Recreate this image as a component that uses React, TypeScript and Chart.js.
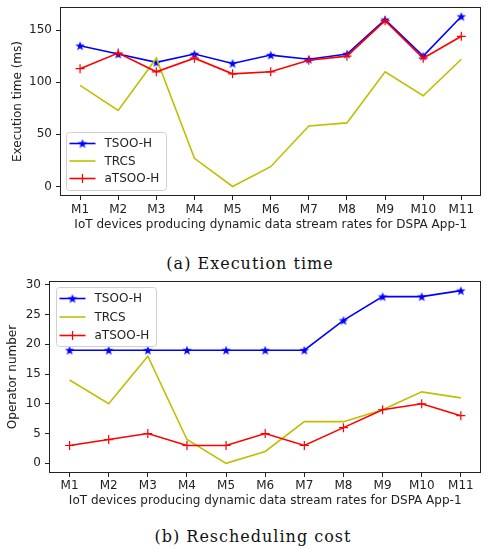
import React, { useEffect, useRef } from "react";
import { Chart, registerables } from "chart.js";

Chart.register(...registerables);

// ---------- data ----------
const categories = ["M1", "M2", "M3", "M4", "M5", "M6", "M7", "M8", "M9", "M10", "M11"];
const seriesNames = ["TSOO-H", "TRCS", "aTSOO-H"];

const execTSOOH = [135, 127, 119, 127, 118, 126, 122, 127, 160, 125, 163];
const execTRCS = [97, 73, 123, 27, 0, 19, 58, 61, 110, 87, 122];
const execATSOOH = [113, 128, 110, 123, 108, 110, 121, 125, 159, 123, 144];

const costTSOOH = [19, 19, 19, 19, 19, 19, 19, 24, 28, 28, 29];
const costTRCS = [14, 10, 18, 4, 0, 2, 7, 7, 9, 12, 11];
const costATSOOH = [3, 4, 5, 3, 3, 5, 3, 6, 9, 10, 8];

const execTicks = [0, 50, 100, 150];
const costTicks = [0, 5, 10, 15, 20, 25, 30];

const xTitle = "IoT devices producing dynamic data stream rates for DSPA App-1";
const execYTitle = "Execution time (ms)";
const costYTitle = "Operator number";
const captionA = "(a) Execution time";
const captionB = "(b) Rescheduling cost";

// ---------- styles ----------
const BLUE = "#0000ff";
const OLIVE = "#bfbf00";
const RED = "#ff0000";
const FONT = "'DejaVu Sans', sans-serif";
const FS = 12;
const TEXT = "#222222";

function makeStar(color: string, r: number): HTMLCanvasElement {
  const size = Math.ceil(r * 2 + 2);
  const c = document.createElement("canvas");
  c.width = size;
  c.height = size;
  const ctx = c.getContext("2d")!;
  const cx = size / 2;
  const cy = size / 2 + 0.4;
  ctx.beginPath();
  for (let i = 0; i < 10; i++) {
    const rad = i % 2 === 0 ? r : r * 0.4;
    const a = -Math.PI / 2 + (i * Math.PI) / 5;
    const px = cx + rad * Math.cos(a);
    const py = cy + rad * Math.sin(a);
    if (i === 0) ctx.moveTo(px, py);
    else ctx.lineTo(px, py);
  }
  ctx.closePath();
  ctx.fillStyle = color;
  ctx.fill();
  return c;
}

function extent(arrs: number[][]) {
  const all = arrs.flat();
  const mn = Math.min(...all);
  const mx = Math.max(...all);
  const m = (mx - mn) * 0.05;
  return { min: mn - m, max: mx + m };
}

const framePlugin = {
  id: "frameAndLegend",
  afterDatasetsDraw(chart: any, _args: any, opts: any) {
    const { ctx, chartArea } = chart;
    ctx.save();
    // axes frame
    ctx.strokeStyle = "#222";
    ctx.lineWidth = 1;
    ctx.strokeRect(
      Math.round(chartArea.left) - 0.5,
      Math.round(chartArea.top) - 0.5,
      Math.round(chartArea.right - chartArea.left) + 1,
      Math.round(chartArea.bottom - chartArea.top) + 1
    );
    // legend
    const { x, y, w, h, rowH, first } = opts;
    const r = 3;
    ctx.beginPath();
    ctx.moveTo(x + r, y);
    ctx.lineTo(x + w - r, y);
    ctx.arcTo(x + w, y, x + w, y + r, r);
    ctx.lineTo(x + w, y + h - r);
    ctx.arcTo(x + w, y + h, x + w - r, y + h, r);
    ctx.lineTo(x + r, y + h);
    ctx.arcTo(x, y + h, x, y + h - r, r);
    ctx.lineTo(x, y + r);
    ctx.arcTo(x, y, x + r, y, r);
    ctx.closePath();
    ctx.fillStyle = "rgba(255,255,255,0.8)";
    ctx.fill();
    ctx.strokeStyle = "#d0d0d0";
    ctx.stroke();

    chart.data.datasets.forEach((ds: any, i: number) => {
      const cy = y + first + i * rowH;
      const x0 = x + 3;
      const x1 = x + 29;
      ctx.strokeStyle = ds.borderColor;
      ctx.lineWidth = ds.borderWidth;
      ctx.beginPath();
      ctx.moveTo(x0, cy);
      ctx.lineTo(x1, cy);
      ctx.stroke();
      const mx = (x0 + x1) / 2;
      if (ds.pointStyle instanceof HTMLCanvasElement) {
        const img = ds.pointStyle;
        ctx.drawImage(img, mx - img.width / 2, cy - img.height / 2);
      } else if (ds.pointStyle === "cross" && ds.pointRadius > 0) {
        ctx.strokeStyle = ds.pointBorderColor;
        ctx.lineWidth = ds.pointBorderWidth;
        const pr = ds.pointRadius;
        ctx.beginPath();
        ctx.moveTo(mx - pr, cy);
        ctx.lineTo(mx + pr, cy);
        ctx.moveTo(mx, cy - pr);
        ctx.lineTo(mx, cy + pr);
        ctx.stroke();
      }
      ctx.fillStyle = TEXT;
      ctx.font = `${FS}px ${FONT}`;
      ctx.textBaseline = "middle";
      ctx.textAlign = "left";
      ctx.fillText(ds.label, x + 38, cy + 0.5);
    });
    ctx.restore();
  },
};

function buildConfig(p: {
  series: number[][];
  ticks: number[];
  yTitle: string;
  yWidth: number;
  yTitlePad: number;
  xHeight: number;
  xTickPad: number;
  xTitlePad: number;
  padTop: number;
  legend: any;
}) {
  const star = makeStar(BLUE, 5);
  const { min, max } = extent(p.series);
  return {
    type: "line",
    data: {
      labels: categories,
      datasets: [
        {
          label: seriesNames[0],
          data: p.series[0],
          borderColor: BLUE,
          backgroundColor: BLUE,
          borderWidth: 1.6,
          pointStyle: star,
          pointRadius: 5,
          pointHoverRadius: 5,
          tension: 0,
          order: 3,
        },
        {
          label: seriesNames[1],
          data: p.series[1],
          borderColor: OLIVE,
          backgroundColor: OLIVE,
          borderWidth: 1.6,
          pointRadius: 0,
          pointHoverRadius: 0,
          tension: 0,
          order: 2,
        },
        {
          label: seriesNames[2],
          data: p.series[2],
          borderColor: RED,
          backgroundColor: RED,
          borderWidth: 1.6,
          pointStyle: "cross",
          pointRadius: 4.5,
          pointHoverRadius: 4.5,
          pointBorderColor: RED,
          pointBorderWidth: 1.2,
          tension: 0,
          order: 1,
        },
      ],
    },
    options: {
      animation: false,
      responsive: false,
      events: [],
      layout: { padding: { left: 0, right: 2, top: p.padTop, bottom: 0 } },
      plugins: {
        legend: { display: false },
        tooltip: { enabled: false },
        frameAndLegend: p.legend,
      },
      scales: {
        x: {
          type: "category",
          offset: true,
          border: { display: false },
          grid: {
            display: true,
            drawOnChartArea: false,
            drawTicks: true,
            tickLength: 5,
            color: "#222",
            offset: false,
          },
          ticks: {
            color: TEXT,
            font: { family: FONT, size: FS },
            padding: p.xTickPad,
            maxRotation: 0,
            autoSkip: false,
          },
          title: {
            display: true,
            text: xTitle,
            color: TEXT,
            font: { family: FONT, size: FS },
            padding: { top: 0, bottom: p.xTitlePad },
          },
          afterFit: (s: any) => {
            s.height = p.xHeight;
            s.paddingLeft = 0;
            s.paddingRight = 0;
          },
        },
        y: {
          type: "linear",
          min,
          max,
          border: { display: false },
          grid: {
            display: true,
            drawOnChartArea: false,
            drawTicks: true,
            tickLength: 5,
            color: "#222",
          },
          ticks: {
            color: TEXT,
            font: { family: FONT, size: FS },
            padding: 4,
          },
          afterBuildTicks: (s: any) => {
            s.ticks = p.ticks.map((v) => ({ value: v }));
          },
          title: {
            display: true,
            text: p.yTitle,
            color: TEXT,
            font: { family: FONT, size: FS },
            padding: { top: p.yTitlePad, bottom: 0 },
          },
          afterFit: (s: any) => {
            s.width = p.yWidth;
            s.paddingTop = 0;
            s.paddingBottom = 0;
          },
        },
      },
    },
    plugins: [framePlugin],
  };
}

function ChartCanvas({ config, width, height, top }: any) {
  const ref = useRef<HTMLCanvasElement | null>(null);
  useEffect(() => {
    if (!ref.current) return;
    const chart = new Chart(ref.current, config());
    return () => chart.destroy();
  }, []);
  return (
    <canvas
      ref={ref}
      width={width}
      height={height}
      style={{ position: "absolute", left: 0, top, width, height, display: "block" }}
    />
  );
}

export default function App() {
  useEffect(() => {
    document.body.style.margin = "0";
  }, []);
  const captionStyle: any = {
    position: "absolute",
    left: 0,
    textAlign: "center",
    fontFamily: "'DejaVu Serif', serif",
    fontSize: 16,
    letterSpacing: "1px",
    lineHeight: "20px",
    color: "#111",
    whiteSpace: "nowrap",
  };
  return (
    <div style={{ position: "absolute", left: 0, top: 0, width: 487, height: 549, background: "#fff", overflow: "hidden" }}>
      <ChartCanvas
        width={487}
        height={240}
        top={0}
        config={() =>
          buildConfig({
            series: [execTSOOH, execTRCS, execATSOOH],
            ticks: execTicks,
            yTitle: execYTitle,
            yWidth: 61,
            yTitlePad: 10.8,
            xHeight: 45,
            xTickPad: 2.5,
            xTitlePad: 7.8,
            padTop: 8,
            legend: { x: 66.5, y: 132.5, w: 100, h: 58, rowH: 17.5, first: 11 },
          })
        }
      />
      <div style={{ ...captionStyle, top: 254, width: 500 }}>{captionA}</div>
      <ChartCanvas
        width={487}
        height={250}
        top={270}
        config={() =>
          buildConfig({
            series: [costTSOOH, costTRCS, costATSOOH],
            ticks: costTicks,
            yTitle: costYTitle,
            yWidth: 50,
            yTitlePad: 5.8,
            xHeight: 48,
            xTickPad: 1.5,
            xTitlePad: 11.8,
            padTop: 12,
            legend: { x: 56.5, y: 17.5, w: 100, h: 59, rowH: 18.5, first: 11 },
          })
        }
      />
      <div style={{ ...captionStyle, top: 527, width: 506 }}>{captionB}</div>
    </div>
  );
}
